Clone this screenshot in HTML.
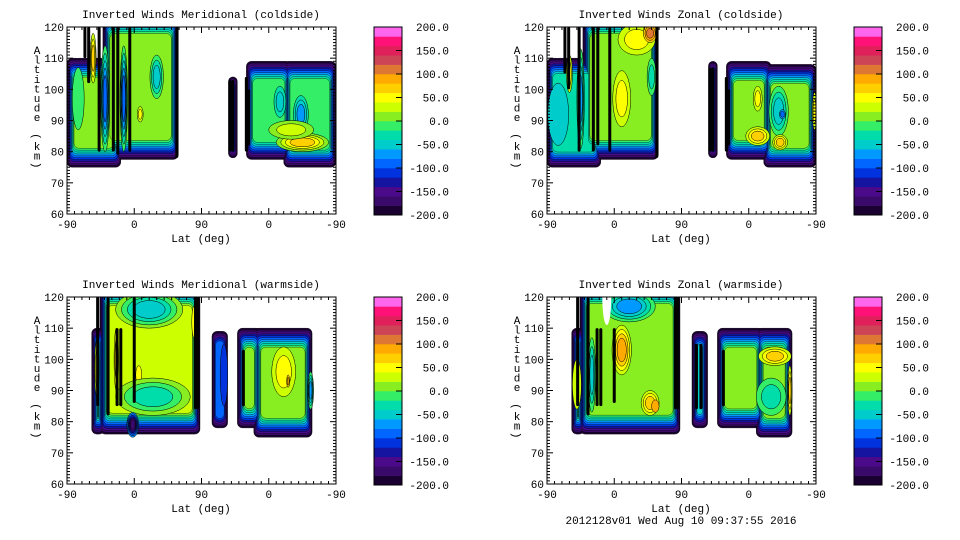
<!DOCTYPE html>
<html><head><meta charset="utf-8">
<style>
html,body{margin:0;padding:0;background:#fff;}
svg{display:block;}
text{font-family:"Liberation Mono",monospace;font-size:11px;fill:#000;}
</style></head>
<body>
<svg id="fig" width="960" height="540" viewBox="0 0 960 540" xmlns="http://www.w3.org/2000/svg"></svg>
<script>
// ---- data ----
const panelTitles = ["Inverted Winds Meridional (coldside)","Inverted Winds Zonal (coldside)","Inverted Winds Meridional (warmside)","Inverted Winds Zonal (warmside)"];
const yTicks = [60,70,80,90,100,110,120];
const xTickLabels = ["-90","0","90","0","-90"];
const cbLabels = ["200.0","150.0","100.0","50.0","0.0","-50.0","-100.0","-150.0","-200.0"];
const bandColors = ["#1a0030","#3a0a6a","#4b0a8a","#1414a0","#0033dd","#0066ff","#0099ff","#00cccc","#00ddaa","#33ee66","#88ee22","#ccff00","#ffff00","#ffd000","#ffaa00","#dd7733","#cc4455","#e0205a","#ff1177","#ff66ee"];
// regions: [idxStart, idxEnd, altLo, altHi, interiorValue]
const regions0 = [[0,72,75,110,0],[48,149,77.5,124,0],[216,228,78,104,-90],[240,300,77.5,109,-10],[290,360,75,109,-10]];
const regions1 = [[0,72,75,110,-30],[48,149,77.5,124,10],[216,228,78,109,-60],[240,300,77.5,109,0],[290,360,75,108,0]];
const regions2 = [[33,50,76,110,0],[44,178,76,124,20],[194,215,78,109,-100],[228,260,78,110,10],[250,328,75,110,10]];
const regions3 = [[33,50,76,110,0],[44,178,76,124,10],[194,215,78,109,-60],[228,290,78,110,0],[280,328,75,110,0]];
// blobs: [centerIdx, alt, radiusIdx, radiusKm, fromValue, toValue]
const blobs0 = [[51,97,6,17,0,-90],[76,97,5,17,0,-90],[35,110,4,8,0,60],[120,104,9,7,0,-50],[98,92,4,2.5,0,40],[15,97,8,10,0,-10],[285,96,8,5,-10,-50],[313,92,10,6,-10,-70],[315,83,35,3,-10,60],[300,87,30,3,-10,30]];
const blobs1 = [[15,92,14,10,-30,-50],[45,97,5,16,10,-70],[30,105,4,6,10,40],[100,97,12,9,10,50],[120,116,25,5,10,50],[138,118,9,3,50,100],[140,104,6,6,10,-40],[310,93,13,8,0,-60],[315,92,4,1.5,-60,-90],[282,97,6,4,0,50],[282,85,16,3,0,60],[312,83,10,2.5,0,60],[358,93,3,6,0,40]];
const blobs2 = [[110,116,45,6,20,-60],[40,97,3,9,0,50],[66,100,3,10,20,60],[96,95,4,3,20,50],[170,112,3,5,20,50],[115,88,50,6,20,-40],[88,79,8,4,-60,-180],[290,96,16,8,10,50],[296,93,2,2,50,80],[326,90,4,6,10,-80],[210,95,5,10,-100,-120]];
const blobs3 = [[110,117,35,5,10,-80],[100,103,13,8,10,80],[138,86,12,4,10,60],[145,85,5,2,60,90],[60,95,5,12,10,-60],[40,92,6,8,0,30],[305,101,22,3,0,60],[325,90,3,8,0,60],[300,88,20,6,0,-40],[206,96,3,10,-60,-50]];
// holes: [centerIdx, alt, radiusIdx, radiusKm]
const holes0 = [[14,117,14,7]];
const holes1 = [[14,117,14,7]];
const holes2 = [];
const holes3 = [[80,120,6,9]];
// black contour stripes: [idx, altLo, altHi]
const lines0 = [[24,110,120],[29,102,120],[43,80,120],[62,80,120],[68,79,120],[84,80,120],[147,78,120],[218,80,103],[222,80,103],[240,80,104],[243,82,100]];
const lines1 = [[24,105,120],[29,100,120],[43,80,120],[62,80,120],[68,82,120],[84,80,120],[147,78,120],[218,80,107],[222,80,107],[240,80,104],[243,82,100]];
const lines2 = [[41,85,120],[55,82,120],[67,85,110],[72,85,110],[90,86,120],[172,84,120],[175,84,120],[236,85,103]];
const lines3 = [[41,85,120],[55,82,120],[67,85,110],[72,85,110],[90,86,110],[172,84,120],[175,84,120],[200,84,105],[206,84,105],[236,85,103]];
const footerText = "2012128v01 Wed Aug 10 09:37:55 2016";

const allRegions=[regions0,regions1,regions2,regions3];
const allBlobs=[blobs0,blobs1,blobs2,blobs3];
const allHoles=[holes0,holes1,holes2,holes3];
const allLines=[lines0,lines1,lines2,lines3];
const offsets=[[0,0],[480,0],[0,270],[480,270]];

const NS="http://www.w3.org/2000/svg";
const fig=document.getElementById('fig');
function mk(tag,attrs,parent){const e=document.createElementNS(NS,tag);for(const k in attrs)e.setAttribute(k,attrs[k]);(parent||fig).appendChild(e);return e;}
const PX0=67,PX1=336,PY0=27,PY1=214;
function X(i){return PX0+i*(PX1-PX0)/360;}
function Y(a){return PY1-(a-60)*(PY1-PY0)/60;}
function band(v){return Math.max(0,Math.min(19,Math.floor((v+200)/20)));}

offsets.forEach((off,p)=>{
  const g=mk('g',{transform:`translate(${off[0]},${off[1]})`});
  
  
  const cid='clip'+p;
  const cp=mk('clipPath',{id:cid},g);
  mk('rect',{x:PX0,y:PY0,width:PX1-PX0,height:PY1-PY0},cp);
  const plot=mk('g',{'clip-path':`url(#${cid})`},g);
  
  
  const regs=allRegions[p];
  const maxL=Math.max(...regs.map(r=>band(r[4])));
  for(let k=0;k<=maxL;k++){
    regs.forEach(r=>{
      if(band(r[4])<k)return;
      const dx=k*0.7, dy=k*1.9;
      const x=X(r[0])+dx, w=X(r[1])-X(r[0])-2*dx;
      const y=Y(r[3])+dy, h=Y(r[2])-Y(r[3])-2*dy;
      if(w<=0||h<=0)return;
      const e=mk('rect',{x:x,y:y,width:w,height:h,rx:Math.min(5,w/2),fill:bandColors[k],stroke:'#000','stroke-width':0.5,'stroke-opacity':0.7},plot);
      
      
    });
  }
  allBlobs[p].forEach(b=>{
    const b0=band(b[4]), b1=band(b[5]);
    const n=Math.abs(b1-b0); if(n===0)return;
    const s=b1>b0?1:-1;
    for(let j=1;j<=n;j++){
      const f=1-(j-1)/n*0.7;
      const e=mk('ellipse',{cx:X(b[0]),cy:Y(b[1]),rx:b[2]*(X(1)-X(0))*f,ry:b[3]*(Y(60)-Y(61))*f,fill:bandColors[b0+s*j],stroke:'#000','stroke-width':0.5},plot);
      
      
    }
  });
  allHoles[p].forEach(h=>{
    const e=mk('ellipse',{cx:X(h[0]),cy:Y(h[1]),rx:h[2]*(X(1)-X(0)),ry:h[3]*(Y(60)-Y(61)),fill:'#fff'},plot);
    
    
  });
  allLines[p].forEach(l=>{
    const e=mk('rect',{x:X(l[0])-1.5,y:Y(l[2]),width:3,height:Y(l[1])-Y(l[2]),rx:1.5,fill:'#000'},plot);
    
    
  });
  const box=mk('rect',{x:PX0,y:PY0,width:PX1-PX0,height:PY1-PY0,fill:'none',stroke:'#000','stroke-width':1},g);
  
  
  for(let a=60;a<=120;a++){
    const len=(a%10===0)?6:3;
    mk('line',{x1:PX0,x2:PX0+len,y1:Y(a),y2:Y(a),stroke:'#000','stroke-width':1},g);
    mk('line',{x1:PX1,x2:PX1-len,y1:Y(a),y2:Y(a),stroke:'#000','stroke-width':1},g);
  }
  for(let i=0;i<=360;i+=10){
    const len=(i%90===0)?6:3;
    mk('line',{x1:X(i),x2:X(i),y1:PY1,y2:PY1-len,stroke:'#000','stroke-width':1},g);
    mk('line',{x1:X(i),x2:X(i),y1:PY0,y2:PY0+len,stroke:'#000','stroke-width':1},g);
  }
  yTicks.forEach(v=>{
    const t=mk('text',{x:PX0-3,y:Y(v)+4,'text-anchor':'end'},g);t.textContent=v;
    
    
  });
  xTickLabels.forEach((s,i)=>{
    const t=mk('text',{x:X(i*90),y:PY1+14,'text-anchor':'middle'},g);t.textContent=s;
    
    
  });
  const xt=mk('text',{x:201,y:PY1+28,'text-anchor':'middle'},g);xt.textContent="Lat (deg)";
  
  
  const tt=mk('text',{x:201,y:18,'text-anchor':'middle'},g);tt.textContent=panelTitles[p];
  
  
  const yt=mk('g',{},g);
  
  
  "Altitude (km)".split('').forEach((c,i)=>{
    const t=mk('text',{x:37,y:54+i*9.6,'text-anchor':'middle'},yt);t.textContent=c;
    if(c==='('||c===')')t.setAttribute('transform',`rotate(90 37 ${50+i*9.6})`);
  });
  const cb=mk('g',{},g);
  
  
  const CX0=374,CX1=402,CY0=27,CY1=215,bh=(CY1-CY0)/20;
  bandColors.forEach((c,k)=>{
    mk('rect',{x:CX0,y:CY1-(k+1)*bh,width:CX1-CX0,height:bh+0.3,fill:c},cb);
  });
  mk('rect',{x:CX0,y:CY0,width:CX1-CX0,height:CY1-CY0,fill:'none',stroke:'#000'},cb);
  cbLabels.forEach((s,i)=>{
    const y=CY0+i*(CY1-CY0)/8;
    if(i>0&&i<8)mk('line',{x1:CX1-6,x2:CX1,y1:y,y2:y,stroke:'#000'},cb);
    const t=mk('text',{x:449,y:y+4,'text-anchor':'end'},cb);t.textContent=s;
    
    
  });
});
const ft=mk('text',{x:681,y:524,'text-anchor':'middle'});ft.textContent=footerText;


</script>
</body></html>
